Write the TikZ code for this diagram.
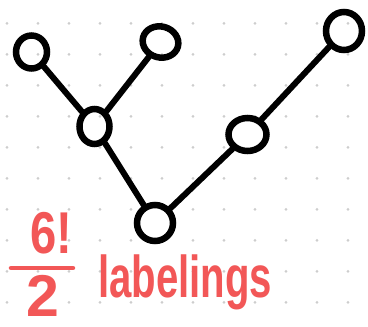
\documentclass[tikz,border=0pt]{standalone}
\usepackage{fontspec}
\setmainfont{Liberation Sans}
\usetikzlibrary{shapes.geometric}
\definecolor{inkred}{HTML}{F25757}
\definecolor{dotgray}{HTML}{CDCDCD}
\begin{document}
\begin{tikzpicture}[x=1pt,y=-1pt,
  vert/.style={ellipse,draw=black,line width=6.5pt,inner sep=0pt,fill=none},
  edge/.style={draw=black,line width=6pt,line cap=round},
  redtext/.style={text=inkred,inner sep=0pt,font=\fontsize{59}{59}\selectfont\bfseries}]
  \useasboundingbox (0,0) rectangle (368,327);
  \fill[white] (0,0) rectangle (368,327);
  % dotted grid
  \foreach \i in {0,...,11}
    \foreach \j in {0,...,9}
      \fill[dotgray] (7+31*\i,23.3+31*\j) circle (1.5);
  % vertices
  \node[vert,minimum width=31pt,minimum height=33pt] (a) at (31.5,52) {};
  \node[vert,minimum width=36pt,minimum height=31pt,rotate=-15] (b) at (160.5,42) {};
  \node[vert,minimum width=30pt,minimum height=35pt] (c) at (94.5,126.5) {};
  \node[vert,minimum width=36pt,minimum height=36pt] (d) at (155,223) {};
  \node[vert,minimum width=38pt,minimum height=33pt] (e) at (247.5,134.5) {};
  \node[vert,minimum width=36pt,minimum height=38pt] (f) at (344,31) {};
  % edges
  \draw[edge] (a) -- (c);
  \draw[edge] (b) -- (c);
  \draw[edge] (c) -- (d);
  \draw[edge] (d) -- (e);
  \draw[edge] (e) -- (f);
  % count of labelings
  \node[redtext,anchor=base] (num) at (51,253) {\scalebox{0.8}[1]{6!}};
  \node[redtext,anchor=base] (den) at (43,316) {2};
  \coordinate (barl) at (11,268);
  \coordinate (barr) at (73,268);
  \draw[inkred,line width=4.5pt,line cap=round] (barl) -- (barr);
  \node[redtext,anchor=base west] (lab) at (98,297) {\scalebox{0.68}[1]{labelings}};
\end{tikzpicture}
\end{document}
